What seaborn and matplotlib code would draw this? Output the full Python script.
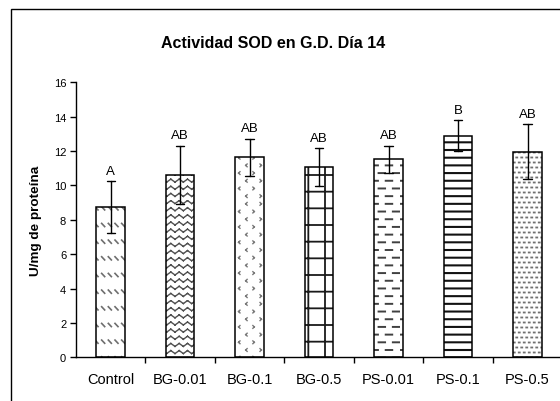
import numpy as np
import pandas as pd
import matplotlib
matplotlib.use("Agg")
import matplotlib.pyplot as plt
import matplotlib.hatch as mhatch
from matplotlib.path import Path
from matplotlib.patches import Rectangle
from matplotlib.ticker import FixedLocator
import seaborn as sns

# ---------------- data ----------------
categories = ["Control", "BG-0.01", "BG-0.1", "BG-0.5", "PS-0.01", "PS-0.1", "PS-0.5"]
means = [8.73, 10.6, 11.63, 11.05, 11.52, 12.89, 11.95]
errors = [1.5, 1.7, 1.1, 1.1, 0.8, 0.9, 1.6]
letters = ["A", "AB", "AB", "AB", "AB", "B", "AB"]
y_ticks = [0, 2, 4, 6, 8, 10, 12, 14, 16]
title = "Actividad SOD en G.D. Día 14"
ylabel = "U/mg de proteína"

# ---------------- custom hatch motifs (unit tile) ----------------
class SegmentHatch(mhatch.HatchPatternBase):
    char = None

    def __init__(self, hatch, density):
        self.segs = self.segments() if (hatch and self.char in hatch) else []
        self.num_vertices = 2 * len(self.segs)

    def segments(self):
        return []

    def set_vertices_and_codes(self, vertices, codes):
        vertices[:] = np.asarray(self.segs, float).reshape(-1, 2)
        codes[0::2] = Path.MOVETO
        codes[1::2] = Path.LINETO


class DiagDashes(SegmentHatch):
    char = "\\"

    def segments(self):
        out = []
        for r in range(6):
            y = (r + 0.5) / 6
            for c in range(15):
                x = (c + 0.25) / 15
                out.append(((x, y + 0.016), (x + 0.03, y - 0.016)))
        return out


class Zigzag(SegmentHatch):
    char = "x"

    def segments(self):
        out = []
        amp = 0.03
        for r in range(14):
            y = (r + 0.5) / 14
            for k in range(12):
                x0, xm, x1 = k / 12, (k + 0.5) / 12, (k + 1) / 12
                out.append(((x0, y), (xm, y + amp)))
                out.append(((xm, y + amp), (x1, y)))
        return out


class Chevrons(SegmentHatch):
    char = "o"

    def segments(self):
        out = []
        s = 0.014
        for r in range(13):
            y = (r + 0.5) / 13
            for c in range(7):
                x = (c + 0.25 + 0.5 * (r % 2)) / 7
                if (r + c) % 2 == 0:
                    out.append(((x - s / 2, y + s), (x + s / 2, y)))
                    out.append(((x + s / 2, y), (x - s / 2, y - s)))
                else:
                    out.append(((x + s / 2, y + s), (x - s / 2, y)))
                    out.append(((x - s / 2, y), (x + s / 2, y - s)))
        return out


class ShortDashes(SegmentHatch):
    char = "|"

    def segments(self):
        out = []
        for r in range(13):
            y = (r + 0.5) / 13
            for c in range(7):
                x = (c + 0.5 * (r % 2)) / 7
                out.append(((x, y), (x + 0.065, y)))
        return out


class HLines(SegmentHatch):
    char = "-"

    def segments(self):
        return [((0, (r + 0.5) / 13), (1, (r + 0.5) / 13)) for r in range(13)]


class Grid(SegmentHatch):
    char = "+"

    def segments(self):
        out = []
        for r in range(6):
            v = (r + 0.5) / 6
            out.append(((0, v), (1, v)))
            out.append(((v, 0), (v, 1)))
        return out


class Dots(SegmentHatch):
    char = "."

    def segments(self):
        out = []
        for r in range(20):
            y = (r + 0.5) / 20
            for c in range(20):
                x = (c + 0.25 + 0.5 * (r % 2)) / 20
                out.append(((x, y), (x + 0.01, y)))
        return out


mhatch._hatch_types = [DiagDashes, Zigzag, Chevrons, ShortDashes, HLines, Grid, Dots]

bar_hatches = ["\\", "x", "o", "+", "|", "-", "."]
hatch_colors = ["#6e6e6e", "#505050", "#7a7a7a", "#1a1a1a", "#404040", "#111111", "#707070"]
hatch_widths = [1.2, 1.0, 1.0, 1.3, 1.4, 1.5, 1.3]

# ---------------- style ----------------
sns.set_theme(style="white", rc={
    "text.color": "black", "axes.labelcolor": "black",
    "xtick.color": "black", "ytick.color": "black",
    "axes.edgecolor": "black",
})
plt.rcParams["font.family"] = ["Liberation Sans", "DejaVu Sans"]

W, H = 560, 402
fig = plt.figure(figsize=(W / 100, H / 100), dpi=100)
fig.patch.set_facecolor("white")
ax = fig.add_axes([75.97 / W, 1 - 358.3 / H, 486.3 / W, 275 / H])

df = pd.DataFrame({
    "grupo": np.repeat(categories, 2),
    "valor": np.ravel([[m - e, m + e] for m, e in zip(means, errors)]),
})

sns.barplot(data=df, x="grupo", y="valor", order=categories, estimator="mean",
            errorbar=lambda v: (v.min(), v.max()), color="white", saturation=1,
            width=0.41, capsize=0.12,
            err_kws={"color": "black", "linewidth": 1.0},
            edgecolor="black", linewidth=1.0, ax=ax)

bars = list(ax.patches)
for p, h, hc, hw in zip(bars, bar_hatches, hatch_colors, hatch_widths):
    p.set_hatch(h)
    p.set_edgecolor(hc)
    p.set_linewidth(0)
    if hasattr(p, "set_hatch_linewidth"):
        p.set_hatch_linewidth(hw)
    else:
        p._hatch_linewidth = hw
    ax.add_patch(Rectangle(p.get_xy(), p.get_width(), p.get_height(),
                           fill=False, edgecolor="black", linewidth=1.1, zorder=1.5))

for i, (m, e, lab) in enumerate(zip(means, errors, letters)):
    ax.text(i, m + e + 0.45, lab, ha="center", va="baseline", fontsize=9.5)

ax.set_xlim(-0.5, len(categories) - 0.5)
ax.set_ylim(y_ticks[0], y_ticks[-1])
ax.set_yticks(y_ticks)
ax.set_xlabel("")
ax.set_ylabel(ylabel, fontweight="bold", fontsize=9.7, va="center")
ax.yaxis.set_label_coords((36 - 75.97) / 486.3, 0.5)

ax.tick_params(axis="y", which="major", left=True, length=4, width=1,
               direction="out", pad=3, labelsize=8)
ax.tick_params(axis="x", which="major", bottom=True, length=0, pad=10.4, labelsize=10.5)
ax.xaxis.set_minor_locator(FixedLocator(np.arange(len(categories) - 1) + 0.5))
ax.tick_params(axis="x", which="minor", bottom=True, length=4.5, width=1, direction="out")

for s in ["top", "right"]:
    ax.spines[s].set_visible(False)
for s in ["left", "bottom"]:
    ax.spines[s].set_linewidth(1.0)
    ax.spines[s].set_color("black")

fig.text(273.5 / W, 1 - 43 / H, title, ha="center", va="center",
         fontsize=11.5, fontweight="bold")

fig.patches.append(Rectangle((11 / W, -0.1), 1.2, 1.1 - 10 / H,
                             transform=fig.transFigure, fill=False,
                             edgecolor="black", linewidth=1.0, figure=fig))

fig.savefig("out.png", dpi=100)
